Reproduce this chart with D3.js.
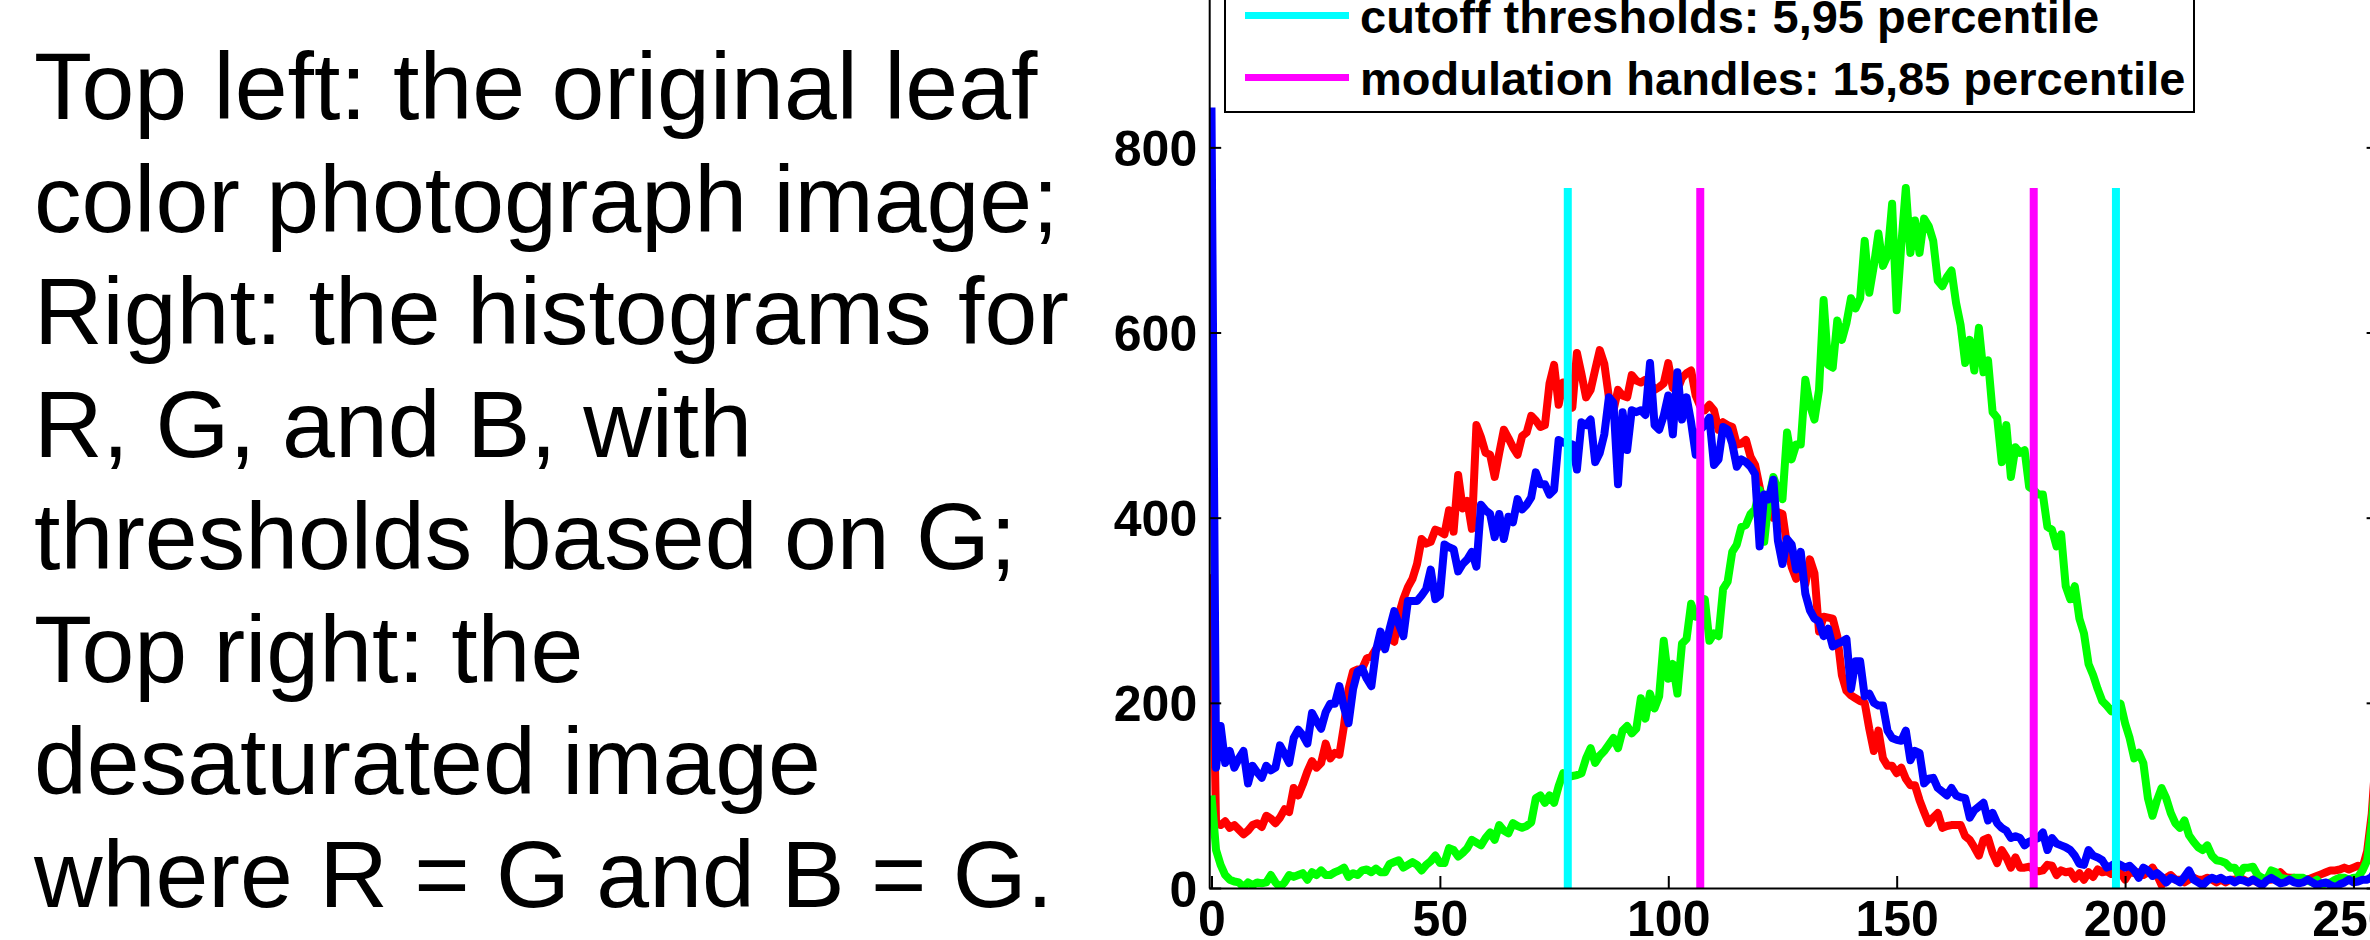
<!DOCTYPE html>
<html>
<head>
<meta charset="utf-8">
<script src="https://cdn.jsdelivr.net/npm/d3@7"></script>
<style>
  html, body { margin: 0; padding: 0; background: #fff; }
  svg { display: block; }
</style>
</head>
<body>
<svg id="fig" width="2370" height="940"></svg>
<script>
// Caption lines shown beside the histogram panel
const captionLines = [
  "Top left: the original leaf",
  "color photograph image;",
  "Right: the histograms for",
  "R, G, and B, with",
  "thresholds based on G;",
  "Top right: the",
  "desaturated image",
  "where R = G and B = G."
];

// Pixel counts per intensity level 0..255 for each channel
const redCounts = [
  339,70,68,72,65,68,63,58,62,68, 70,66,78,75,70,76,85,82,108,100,
  112,126,137,130,135,156,140,146,144,175, 215,234,236,237,248,250,258,262,268,270,
  266,295,312,325,334,350,377,372,374,387, 385,382,408,385,446,410,418,388,500,487,
  470,468,444,470,495,486,476,468,488,492, 510,505,498,500,545,565,522,546,530,519,
  578,555,530,538,560,581,566,530,516,538, 532,530,554,548,546,549,545,538,541,545,
  567,540,538,551,556,559,532,520,516,522, 516,495,503,500,498,479,480,484,466,457,
  433,409,420,400,406,404,370,347,334,345, 328,355,340,277,293,292,291,272,230,213,
  208,205,202,200,172,148,170,140,132,132, 124,130,118,111,111,95,82,70,76,81,
  65,67,68,68,68,56,52,44,35,52, 54,38,27,41,33,22,33,22,22,23,
  20,18,19,25,24,14,19,17,18,10, 16,9,17,12,20,17,18,15,16,17,
  9,17,16,17,14,17,22,14,3,11, 14,9,9,6,9,11,9,9,11,9,
  6,9,6,9,9,11,9,6,9,6, 8,9,9,10,17,12,11,11,9,10,
  9,11,13,15,17,19,19,20,22,20, 22,24,22,40,80,150
];

const greenCounts = [
  100,41,25,14,9,7,6,1,6,3, 6,5,6,14,6,1,6,14,12,14,
  16,9,17,14,19,14,14,17,19,22, 12,16,14,19,20,17,21,17,17,26,
  28,30,22,25,28,25,19,25,29,35, 27,27,43,41,34,38,43,52,49,46,
  54,60,52,68,62,59,70,67,65,67, 71,97,100,92,100,92,110,124,120,121,
  122,124,140,151,135,143,148,155,162,151, 170,175,167,172,205,183,210,194,207,267,
  226,242,210,264,269,307,293,299,312,267, 275,272,323,331,363,371,390,392,404,409,
  430,374,420,444,430,420,492,463,479,479, 549,522,506,538,635,565,562,613,592,610,
  637,626,637,699,643,672,707,672,683,739, 624,694,756,686,721,686,723,715,699,656,
  650,660,667,632,608,567,592,559,605,557, 570,514,508,460,500,444,476,470,473,433,
  430,425,425,390,387,369,382,326,312,326, 291,275,242,230,215,202,197,191,195,199,
  178,162,140,146,135,97,78,95,108,97, 81,70,65,73,57,50,44,41,46,35,
  30,29,27,22,22,14,22,22,23,14, 11,9,19,17,11,10,9,11,11,11,
  8,6,9,3,5,6,9,11,11,9, 11,12,19,30,70,130
];

const blueCounts = [
  843,130,175,135,148,130,140,148,113,132, 125,119,132,127,130,154,145,135,162,171,
  165,156,189,180,172,190,199,199,218,195, 178,215,234,237,226,218,256,277,258,280,
  299,285,272,310,310,310,316,323,344,312, 316,371,368,366,342,350,355,363,347,414,
  408,404,379,404,377,401,395,420,409,414, 422,449,436,436,425,430,484,481,480,479,
  452,503,500,506,460,470,490,530,524,436, 514,473,516,514,516,511,567,500,495,510,
  532,490,557,506,530,503,468,495,500,508, 457,463,498,495,480,455,463,460,455,447,
  369,425,420,441,375,350,377,371,344,363, 318,300,291,288,272,280,261,264,266,269,
  215,245,245,207,210,200,197,197,170,162, 160,159,170,138,148,146,113,118,119,108,
  104,100,108,100,98,97,76,84,88,92, 73,81,70,65,62,54,56,54,46,50,
  52,54,60,41,54,48,46,44,41,35, 26,25,41,35,33,30,22,24,27,25,
  22,24,19,11,22,19,13,16,12,6, 11,9,6,12,19,9,6,3,8,11,
  9,11,8,9,6,9,8,6,9,6, 3,8,11,8,5,6,9,6,5,6,
  9,6,3,5,6,3,1,4,6,9, 6,7,9,9,12,20
];

// Threshold levels derived from the G channel
const cutoffLevels = [78, 198];      // 5th and 95th percentile
const handleLevels = [107, 180];     // 15th and 85th percentile

const xTicks = [0, 50, 100, 150, 200, 250];
const yTicks = [0, 200, 400, 600, 800, 1000];

const legendLabels = [
  "cutoff thresholds: 5,95 percentile",
  "modulation handles: 15,85 percentile"
];

const svg = d3.select("#fig");
const font = "'Liberation Sans', Arial, Helvetica, sans-serif";

// ---- caption block ----
const caption = svg.append("g")
  .attr("font-family", font)
  .attr("font-size", 95)
  .attr("fill", "#000");
caption.selectAll("text")
  .data(captionLines)
  .join("text")
  .attr("x", 34)
  .attr("y", (d, i) => 119 + i * 112.5)
  .text(d => d);

// ---- histogram axes ----
const x = d3.scaleLinear().domain([-0.5, 255.5]).range([1209.2, 2378.6]);
const y = d3.scaleLinear().domain([0, 1000]).range([888, -37.8]);

const plot = svg.append("g");

svg.append("defs").append("clipPath").attr("id", "plotClip")
  .append("rect")
  .attr("x", x.range()[0]).attr("y", y.range()[1])
  .attr("width", x.range()[1] - x.range()[0])
  .attr("height", y.range()[0] - y.range()[1]);

const lineGen = d3.line()
  .x((d, i) => x(i))
  .y(d => y(d))
  .curve(d3.curveLinear);

const curves = plot.append("g").attr("clip-path", "url(#plotClip)");
[[redCounts, "#ff0000"], [greenCounts, "#00ff00"], [blueCounts, "#0000ff"]].forEach(([vals, col]) => {
  curves.append("path")
    .datum(vals)
    .attr("d", lineGen)
    .attr("fill", "none")
    .attr("stroke", col)
    .attr("stroke-width", 8)
    .attr("stroke-linejoin", "round");
});

// threshold markers span up to the G histogram peak
const gPeak = d3.max(greenCounts);
const markers = cutoffLevels.map(v => ({ v, c: "#00ffff" }))
  .concat(handleLevels.map(v => ({ v, c: "#ff00ff" })));
curves.selectAll("line.marker")
  .data(markers)
  .join("line")
  .attr("class", "marker")
  .attr("x1", d => x(d.v)).attr("x2", d => x(d.v))
  .attr("y1", y(0)).attr("y2", y(gPeak))
  .attr("stroke", d => d.c)
  .attr("stroke-width", 8);

// axes with inward ticks on all four sides
const tickLen = 12;

const bottomAxis = d3.axisBottom(x).tickValues(xTicks).tickSizeInner(-tickLen).tickSizeOuter(0).tickPadding(14);
const gB = plot.append("g").attr("transform", `translate(0,${y(0)})`).call(bottomAxis);
const topAxis = d3.axisTop(x).tickValues(xTicks).tickSizeInner(-tickLen).tickSizeOuter(0).tickFormat("");
const gT = plot.append("g").attr("transform", `translate(0,${y(1000)})`).call(topAxis);
const leftAxis = d3.axisLeft(y).tickValues(yTicks).tickSizeInner(-tickLen).tickSizeOuter(0).tickPadding(12);
const gL = plot.append("g").attr("transform", `translate(${x(-0.5)},0)`).call(leftAxis);
const rightAxis = d3.axisRight(y).tickValues(yTicks).tickSizeInner(-tickLen).tickSizeOuter(0).tickFormat("");
const gR = plot.append("g").attr("transform", `translate(${x(255.5)},0)`).call(rightAxis);

[gB, gT, gL, gR].forEach(g => {
  g.select(".domain").attr("stroke", "#000").attr("stroke-width", 2);
  g.selectAll(".tick line").attr("stroke", "#000").attr("stroke-width", 2);
  g.selectAll(".tick text")
    .attr("font-family", font)
    .attr("font-weight", "bold")
    .attr("font-size", 50)
    .attr("fill", "#000");
});
gB.selectAll(".tick text").attr("dy", null).attr("y", 48);
gL.selectAll(".tick text").attr("dy", "0.36em");

// ---- legend ----
const legend = svg.append("g");
legend.append("rect")
  .attr("x", 1225).attr("y", -200)
  .attr("width", 2194 - 1225).attr("height", 112 + 200)
  .attr("fill", "#fff")
  .attr("stroke", "#000")
  .attr("stroke-width", 2);
const legendColors = ["#00ffff", "#ff00ff"];
legendLabels.forEach((lab, i) => {
  const base = 33 + i * 62;
  legend.append("line")
    .attr("x1", 1245).attr("x2", 1349)
    .attr("y1", base - 17.5).attr("y2", base - 17.5)
    .attr("stroke", legendColors[i])
    .attr("stroke-width", 7);
  legend.append("text")
    .attr("x", 1360).attr("y", base)
    .attr("font-family", font)
    .attr("font-weight", "bold")
    .attr("font-size", 47)
    .attr("fill", "#000")
    .text(lab);
});
</script>
</body>
</html>
